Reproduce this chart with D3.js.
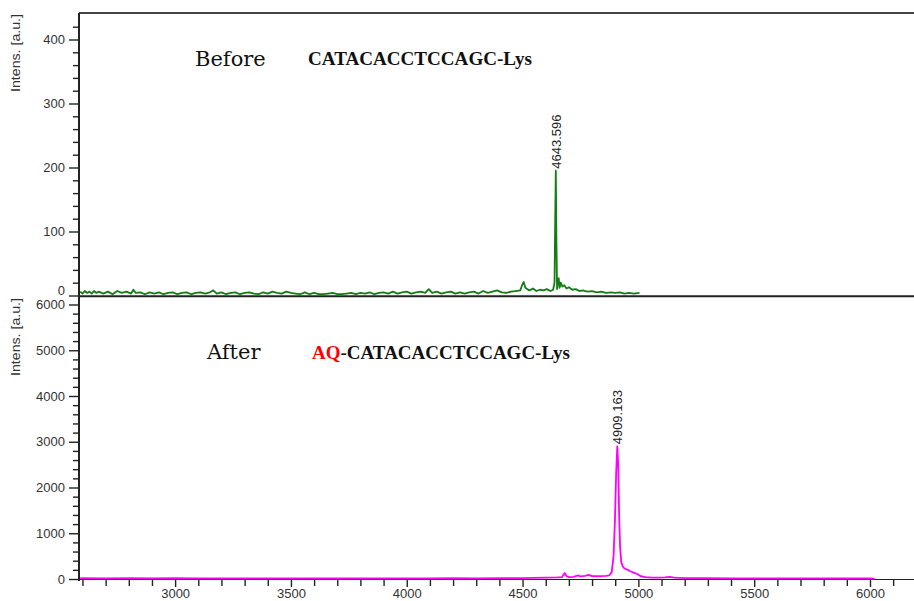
<!DOCTYPE html>
<html><head><meta charset="utf-8">
<script src="https://cdn.jsdelivr.net/npm/d3@7"></script>
<style>
html,body{margin:0;padding:0;background:#fff;}
svg{display:block;font-family:"Liberation Sans",Arial,sans-serif;}
</style></head>
<body>
<svg id="c" width="914" height="601"></svg>
<script>
// ---- data ----
const beforeMz = [2590,2600,2610,2620,2630,2640,2650,2660,2670,2690,2710,2730,2750,2770,2790,2810,2820,2830,2850,2870,2890,2910,2930,2950,2970,2990,3010,3030,3050,3070,3090,3110,3130,3150,3165,3180,3200,3220,3240,3260,3280,3300,3320,3340,3360,3380,3400,3420,3440,3460,3480,3500,3520,3540,3560,3580,3600,3620,3640,3660,3680,3700,3720,3740,3760,3780,3800,3820,3840,3860,3880,3900,3920,3940,3960,3980,4000,4020,4040,4060,4080,4095,4110,4130,4150,4170,4190,4210,4230,4250,4270,4290,4310,4330,4350,4370,4390,4410,4430,4450,4470,4490,4500,4505,4512,4520,4530,4545,4560,4575,4590,4605,4620,4632,4638,4641,4643.6,4646,4649,4652,4656,4660,4665,4672,4680,4690,4700,4715,4730,4745,4760,4780,4800,4820,4840,4860,4880,4900,4920,4940,4960,4980,5005];
const beforeInt = [6,3,7,4,6,3,7,4,6,3,6,2,7,4,6,3,9,4,5,2,5,3,5,2,4,5,2,4,5,2,4,5,3,5,8,3,5,2,4,5,2,4,5,3,2,5,3,6,4,3,6,4,3,2,5,2,4,2,2,3,4,2,2,3,4,2,4,3,5,2,4,5,3,6,3,5,6,3,5,6,4,10,4,6,3,5,6,3,5,3,5,6,3,7,4,6,8,5,4,6,7,8,18,21,12,10,8,11,7,9,8,10,7,9,20,120,195,90,10,22,27,12,20,14,16,11,13,9,10,7,8,6,7,5,6,4,5,4,5,3,4,3,4];
const afterMz = [2590,2700,2800,2900,3000,3100,3200,3300,3400,3500,3600,3700,3800,3900,4000,4100,4200,4300,4400,4500,4550,4600,4650,4670,4682,4690,4700,4720,4740,4750,4770,4785,4800,4820,4840,4860,4875,4885,4893,4899,4904,4909,4913,4917,4921,4926,4932,4940,4955,4965,4980,4995,5010,5030,5060,5090,5115,5135,5155,5200,5300,5400,5500,5600,5700,5800,5900,6000,6020];
const afterInt = [20,15,18,14,16,12,15,13,14,12,13,11,14,12,15,13,16,14,18,20,25,30,35,40,130,60,40,45,80,55,70,90,65,60,65,70,80,150,500,1300,2300,2900,2500,1400,700,380,280,230,200,170,140,110,60,40,30,30,35,45,30,20,18,15,14,13,12,12,11,11,10];
const beforePeak = {mz:4643.6, int:195, label:"4643.596"};
const afterPeak = {mz:4909, int:2900, label:"4909.163"};
const beforeYTicks = [0,100,200,300,400];
const afterYTicks = [0,1000,2000,3000,4000,5000,6000];
const xTicks = [3000,3500,4000,4500,5000,5500,6000];

// ---- layout ----
const svg = d3.select("#c");
const x = d3.scaleLinear().domain([2585,6190]).range([79,914]);
const yTop = d3.scaleLinear().domain([0,400]).range([295.5,39.5]);
const yBot = d3.scaleLinear().domain([0,6000]).range([579,304.5]);
const axisColor = "#222";
const labelColor = "#333";

const topData = beforeMz.map((m,i)=>[m,beforeInt[i]]);
const botData = afterMz.map((m,i)=>[m,afterInt[i]]);

// top border and bottom axis line
svg.append("line").attr("x1",79).attr("x2",914).attr("y1",13).attr("y2",13).attr("stroke","#444").attr("stroke-width",2);
svg.append("line").attr("x1",79).attr("x2",914).attr("y1",yBot(0)+0.5).attr("y2",yBot(0)+0.5).attr("stroke","#222").attr("stroke-width",1.2);

// data lines
svg.append("path").datum(topData)
  .attr("d", d3.line().x(d=>x(d[0])).y(d=>yTop(d[1])))
  .attr("fill","none").attr("stroke","#137d13").attr("stroke-width",1.8).attr("stroke-linejoin","round");
svg.append("path").datum(botData)
  .attr("d", d3.line().x(d=>x(d[0])).y(d=>yBot(d[1])))
  .attr("fill","none").attr("stroke","#ff00ff").attr("stroke-width",1.8).attr("stroke-linejoin","round");

// separator between panels
svg.append("line").attr("x1",79).attr("x2",914).attr("y1",yTop(0)+0.8).attr("y2",yTop(0)+0.8).attr("stroke","#222").attr("stroke-width",2);

// left axis line
svg.append("line").attr("x1",79).attr("x2",79).attr("y1",13).attr("y2",581).attr("stroke","#222").attr("stroke-width",2);

function yAxis(scale, majors, minorStep, maxVal){
  const minors = d3.range(0, maxVal+0.001, minorStep).filter(v=>!majors.includes(v));
  const gMin = svg.append("g").attr("transform","translate(79,0)")
    .call(d3.axisLeft(scale).tickValues(minors).tickSize(6).tickFormat(""));
  const gMaj = svg.append("g").attr("transform","translate(79,0)")
    .call(d3.axisLeft(scale).tickValues(majors).tickSize(10).tickPadding(4).tickFormat(d3.format("d")));
  [gMin,gMaj].forEach(g=>{
    g.select(".domain").remove();
    g.selectAll("line").attr("stroke",axisColor).attr("stroke-width",1.4);
    g.selectAll("text").attr("fill",labelColor).attr("font-size",13).style("font-family","'Liberation Sans',Arial,sans-serif");
  });
  return gMaj;
}
const gTop = yAxis(yTop, beforeYTicks, 20, 420);
// top "0" label sits just above the separator
gTop.selectAll(".tick text").filter(d=>d===0).attr("dy","-0.05em");
yAxis(yBot, afterYTicks, 200, 6000);

// x axis
const xMinors = d3.range(2600,6101,100).filter(v=>!xTicks.includes(v));
const gxMin = svg.append("g").attr("transform",`translate(0,${yBot(0)+1})`)
  .call(d3.axisBottom(x).tickValues(xMinors).tickSize(6).tickFormat(""));
const gxMaj = svg.append("g").attr("transform",`translate(0,${yBot(0)+1})`)
  .call(d3.axisBottom(x).tickValues(xTicks).tickSize(7).tickPadding(2).tickFormat(d3.format("d")));
[gxMin,gxMaj].forEach(g=>{
  g.select(".domain").remove();
  g.selectAll("line").attr("stroke",axisColor).attr("stroke-width",1.4);
  g.selectAll("text").attr("fill",labelColor).attr("font-size",13).style("font-family","'Liberation Sans',Arial,sans-serif");
});

// axis titles
[14,298].forEach(y0=>{
  svg.append("text").attr("transform",`translate(20,${y0}) rotate(-90)`)
    .attr("text-anchor","end").attr("font-size",12).attr("fill",labelColor)
    .attr("textLength",78).attr("lengthAdjust","spacingAndGlyphs")
    .text("Intens. [a.u.]");
});

// peak labels
[[beforePeak,yTop],[afterPeak,yBot]].forEach(([p,ys])=>{
  svg.append("text").attr("transform",`translate(${x(p.mz)+5},${ys(p.int)-2}) rotate(-90)`)
    .attr("text-anchor","start").attr("font-size",13).attr("fill","#222")
    .text(p.label);
});

// annotations
const serif = "'DejaVu Serif',serif";
const boldSerif = "'Liberation Serif','Times New Roman',serif";
svg.append("text").attr("x",195).attr("y",66).style("font-family",serif).attr("font-size",21).attr("fill","#111").text("Before");
svg.append("text").attr("x",308).attr("y",65).style("font-family",boldSerif).attr("font-weight","bold").attr("font-size",19).attr("fill","#111")
  .attr("textLength",224).attr("lengthAdjust","spacingAndGlyphs").text("CATACACCTCCAGC-Lys");
svg.append("text").attr("x",207).attr("y",359).style("font-family",serif).attr("font-size",21).attr("fill","#111").text("After");
const t2 = svg.append("text").attr("x",312).attr("y",359).style("font-family",boldSerif).attr("font-weight","bold").attr("font-size",19).attr("fill","#111")
  .attr("textLength",258).attr("lengthAdjust","spacingAndGlyphs");
t2.append("tspan").attr("fill","#ff0000").text("AQ");
t2.append("tspan").text("-CATACACCTCCAGC-Lys");
</script>
</body></html>
